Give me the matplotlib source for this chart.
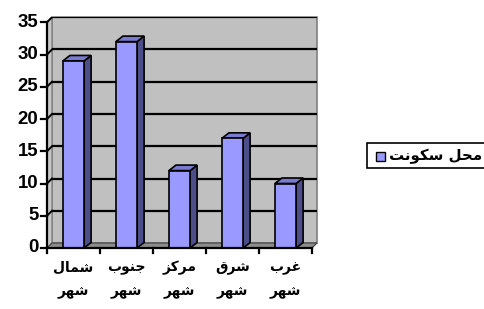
import matplotlib
matplotlib.use("Agg")
import matplotlib.pyplot as plt
from matplotlib.patches import Polygon, Rectangle

# ---------------- data ----------------
categories_line1 = ["شمال", "جنوب", "مرکز", "شرق", "غرب"]
categories_line2 = ["شهر", "شهر", "شهر", "شهر", "شهر"]
values = [29, 32, 12, 17, 10]
series_name = "محل سکونت"
y_ticks = [0, 5, 10, 15, 20, 25, 30, 35]

# ---------------- Arabic shaping (no raqm in matplotlib) ----------------
FORMS = {
    'ا': (0xFE8D, 0xFE8E, None, None),
    'ب': (0xFE8F, 0xFE90, 0xFE91, 0xFE92),
    'ت': (0xFE95, 0xFE96, 0xFE97, 0xFE98),
    'ج': (0xFE9D, 0xFE9E, 0xFE9F, 0xFEA0),
    'ح': (0xFEA1, 0xFEA2, 0xFEA3, 0xFEA4),
    'ر': (0xFEAD, 0xFEAE, None, None),
    'ز': (0xFEAF, 0xFEB0, None, None),
    'س': (0xFEB1, 0xFEB2, 0xFEB3, 0xFEB4),
    'ش': (0xFEB5, 0xFEB6, 0xFEB7, 0xFEB8),
    'غ': (0xFECD, 0xFECE, 0xFECF, 0xFED0),
    'ق': (0xFED5, 0xFED6, 0xFED7, 0xFED8),
    'ل': (0xFEDD, 0xFEDE, 0xFEDF, 0xFEE0),
    'م': (0xFEE1, 0xFEE2, 0xFEE3, 0xFEE4),
    'ن': (0xFEE5, 0xFEE6, 0xFEE7, 0xFEE8),
    'ه': (0xFEE9, 0xFEEA, 0xFEEB, 0xFEEC),
    'و': (0xFEED, 0xFEEE, None, None),
    'ک': (0xFB8E, 0xFB8F, 0xFB90, 0xFB91),
}


def shape_word(word):
    out = []
    n = len(word)
    for i, ch in enumerate(word):
        f = FORMS.get(ch)
        if f is None:
            out.append(ch)
            continue
        prev = word[i - 1] if i > 0 else None
        nxt = word[i + 1] if i < n - 1 else None
        join_prev = prev is not None and prev in FORMS and FORMS[prev][2] is not None
        join_next = nxt is not None and nxt in FORMS and f[2] is not None
        if join_prev and join_next:
            cp = f[3]
        elif join_prev:
            cp = f[1]
        elif join_next:
            cp = f[2]
        else:
            cp = f[0]
        out.append(chr(cp))
    return "".join(out)


def rtl(text):
    words = text.split(" ")
    return " ".join(shape_word(w)[::-1] for w in reversed(words))


# ---------------- figure ----------------
W, H = 485, 309
fig = plt.figure(figsize=(W / 100, H / 100), dpi=100)
fig.patch.set_facecolor("white")

x0_px, x5_px = 47, 312
y0_px = 248
px_per_cat = (x5_px - x0_px) / 5
px_per_unit = 6.45
top_px = 17
right_px = 320
xr = (right_px - x0_px) / px_per_cat
yt = (y0_px - top_px) / px_per_unit
ax = fig.add_axes([x0_px / W, (H - y0_px) / H, (right_px - x0_px) / W, (y0_px - top_px) / H])
ax.set_xlim(0, xr)
ax.set_ylim(0, yt)
ax.axis("off")

n = len(values)
ymax = 35
dxw = 5 / px_per_cat
dyw = 5 / px_per_unit

# back wall
ax.add_patch(Rectangle((dxw, dyw), n, ymax, facecolor="#c0c0c0", edgecolor="#808080",
                       lw=1.2, zorder=1, clip_on=False))
# left side wall
ax.add_patch(Polygon([(0, 0), (dxw, dyw), (dxw, ymax + dyw), (0, ymax)], closed=True,
                     facecolor="#c8c8c8", edgecolor="#808080", lw=1.0, zorder=1, clip_on=False))
# floor
ax.add_patch(Polygon([(0, 0), (n, 0), (n + dxw, dyw), (dxw, dyw)], closed=True,
                     facecolor="#8c8c8c", edgecolor="#404040", lw=0.8, zorder=2, clip_on=False))
# gridlines
for t in y_ticks[1:]:
    ax.plot([dxw, n + dxw], [t + dyw, t + dyw], color="black", lw=1.6, zorder=2,
            solid_capstyle="butt")
    ax.plot([0, dxw], [t, t + dyw], color="black", lw=1.4, zorder=2)

# bars
bw = 0.4
bdx = 7 / px_per_cat
bdy = 5.5 / px_per_unit
for i, v in enumerate(values):
    xl = i + 0.5 - bw / 2
    xr_ = xl + bw
    front = Polygon([(xl, 0), (xr_, 0), (xr_, v), (xl, v)], closed=True,
                    facecolor="#9999ff", edgecolor="black", lw=1.2, zorder=4)
    side = Polygon([(xr_, 0), (xr_ + bdx, bdy), (xr_ + bdx, v + bdy), (xr_, v)], closed=True,
                   facecolor="#4d4d8a", edgecolor="black", lw=1.2, zorder=4)
    top = Polygon([(xl, v), (xr_, v), (xr_ + bdx, v + bdy), (xl + bdx, v + bdy)], closed=True,
                  facecolor="#7a7ad0", edgecolor="black", lw=1.2, zorder=4)
    for p in (side, top, front):
        ax.add_patch(p)

# axes lines
ax.plot([0, n], [0, 0], color="black", lw=1.6, zorder=5, clip_on=False)
ax.plot([0, 0], [0, ymax], color="black", lw=1.6, zorder=5, clip_on=False)
tick_y = 5 / px_per_unit
for i in range(n + 1):
    ax.plot([i, i], [0, -tick_y], color="black", lw=1.6, zorder=5, clip_on=False)
tick_x = 6 / px_per_cat
for t in y_ticks:
    ax.plot([0, -tick_x], [t, t], color="black", lw=1.6, zorder=5, clip_on=False)
    ax.text(-tick_x - 2.5 / px_per_cat, t, str(t), ha="right", va="center", fontsize=13.4,
            fontweight="bold", family="Liberation Sans", clip_on=False)

# category labels
for i in range(n):
    ax.text(i + 0.5, -20 / px_per_unit, rtl(categories_line1[i]), ha="center", va="center",
            fontsize=10, fontweight="bold", family="DejaVu Sans", clip_on=False)
    ax.text(i + 0.5, -44 / px_per_unit, rtl(categories_line2[i]), ha="center", va="center",
            fontsize=10, fontweight="bold", family="DejaVu Sans", clip_on=False)

# legend box
lx0, ly0, lx1, ly1 = 367, 143, 495, 168
fig.patches.append(Rectangle((lx0 / W, 1 - ly1 / H), (lx1 - lx0) / W, (ly1 - ly0) / H,
                             transform=fig.transFigure, facecolor="white", edgecolor="black",
                             lw=1.2))
fig.patches.append(Rectangle((376 / W, 1 - 161 / H), 9 / W, 9 / H, transform=fig.transFigure,
                             facecolor="#9999ff", edgecolor="black", lw=1.0))
fig.text(389 / W, 1 - 156 / H, rtl(series_name), ha="left", va="center", fontsize=10.8,
         fontweight="bold", family="DejaVu Sans")

fig.savefig("out.png", dpi=100)
